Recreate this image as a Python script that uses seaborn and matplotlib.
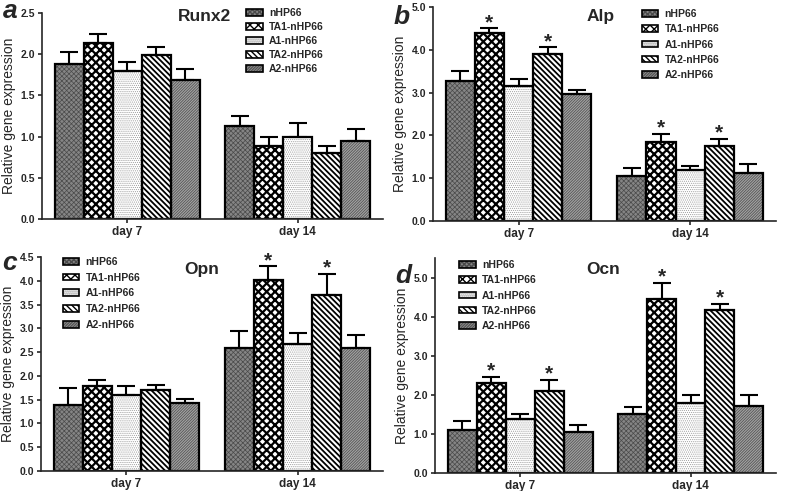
import matplotlib
matplotlib.use("Agg")
import matplotlib.pyplot as plt
from matplotlib.patches import Patch, Rectangle
from matplotlib.legend_handler import HandlerTuple
import seaborn as sns
import pandas as pd

days = ["day 7", "day 14"]
groups = ["nHP66", "TA1-nHP66", "A1-nHP66", "TA2-nHP66", "A2-nHP66"]

# values per group in the order of `groups`
runx2_day7 = [1.88, 2.13, 1.80, 1.99, 1.69]
runx2_day14 = [1.13, 0.88, 0.99, 0.80, 0.95]
runx2_err7 = [0.15, 0.12, 0.11, 0.10, 0.13]
runx2_err14 = [0.12, 0.11, 0.17, 0.09, 0.14]

alp_day7 = [3.28, 4.39, 3.16, 3.90, 2.96]
alp_day14 = [1.05, 1.84, 1.19, 1.74, 1.11]
alp_err7 = [0.22, 0.11, 0.16, 0.16, 0.11]
alp_err14 = [0.18, 0.20, 0.10, 0.18, 0.21]

opn_day7 = [1.39, 1.78, 1.60, 1.70, 1.44]
opn_day14 = [2.59, 4.01, 2.67, 3.71, 2.58]
opn_err7 = [0.35, 0.13, 0.18, 0.10, 0.08]
opn_err14 = [0.36, 0.30, 0.24, 0.44, 0.27]

ocn_day7 = [1.11, 2.31, 1.39, 2.09, 1.04]
ocn_day14 = [1.50, 4.45, 1.79, 4.18, 1.72]
ocn_err7 = [0.21, 0.15, 0.12, 0.30, 0.18]
ocn_err14 = [0.18, 0.42, 0.20, 0.15, 0.27]

runx2_stars = []
alp_stars = [("day 7", "TA1-nHP66"), ("day 7", "TA2-nHP66"),
             ("day 14", "TA1-nHP66"), ("day 14", "TA2-nHP66")]
opn_stars = [("day 14", "TA1-nHP66"), ("day 14", "TA2-nHP66")]
ocn_stars = [("day 7", "TA1-nHP66"), ("day 7", "TA2-nHP66"),
             ("day 14", "TA1-nHP66"), ("day 14", "TA2-nHP66")]

# face colour, hatch, hatch colour, hatch linewidth
styles = {
    "nHP66": ("#858585", "xxxxxxx", "#4a4a4a", 0.5),
    "TA1-nHP66": ("white", "xxxx", "black", 1.6),
    "A1-nHP66": ("white", "........", "#9a9a9a", 0.5),
    "TA2-nHP66": ("white", "\\\\\\\\\\\\", "black", 1.3),
    "A2-nHP66": ("#a4a4a4", "////////////", "#555555", 0.6),
}

sns.set_style("ticks")
plt.rcParams["font.family"] = ["Liberation Sans", "DejaVu Sans"]
plt.rcParams["axes.linewidth"] = 1.2


def make_frame(d7, d14, e7, e14):
    rows = []
    for i, g in enumerate(groups):
        rows.append({"day": "day 7", "group": g, "value": d7[i], "err": e7[i]})
        rows.append({"day": "day 14", "group": g, "value": d14[i], "err": e14[i]})
    return pd.DataFrame(rows)


def set_hlw(p, lw):
    if hasattr(p, "set_hatch_linewidth"):
        p.set_hatch_linewidth(lw)


def draw_panel(ax, df, title, title_xy, ylim, yticks, stars, leg_xy, leg_space):
    sns.barplot(data=df, x="day", y="value", hue="group", order=days,
                hue_order=groups, width=0.85, errorbar=None, legend=False,
                saturation=1, ax=ax)
    tops = {}
    for cont, g in zip(ax.containers, groups):
        face, hatch, hcol, hlw = styles[g]
        for bar, d in zip(cont, days):
            bar.set_facecolor(face)
            bar.set_edgecolor(hcol)
            bar.set_hatch(hatch)
            bar.set_linewidth(0)
            set_hlw(bar, hlw)
            ax.add_patch(Rectangle(bar.get_xy(), bar.get_width(), bar.get_height(),
                                   fill=False, edgecolor="black", lw=1.6,
                                   zorder=bar.get_zorder() + 0.1))
            err = df[(df.day == d) & (df.group == g)].err.iloc[0]
            x = bar.get_x() + bar.get_width() / 2
            y = bar.get_height()
            ax.errorbar([x], [y], yerr=[[0], [err]], fmt="none", ecolor="black",
                        elinewidth=1.5, capsize=6.5, capthick=1.5, zorder=1)
            tops[(d, g)] = (x, y + err)
    for key in stars:
        x, y = tops[key]
        ax.annotate("*", (x, y), xytext=(0, 0), textcoords="offset points",
                    ha="center", va="baseline", fontsize=15, fontweight="bold")

    ax.set_xlim(-0.5, 1.5)
    ax.set_ylim(*ylim)
    ax.set_yticks(yticks)
    ax.set_yticklabels([f"{t:.1f}" for t in yticks], fontsize=7.5, fontweight="bold")
    ax.set_xticks([0, 1])
    ax.set_xticklabels(days, fontsize=8.5, fontweight="bold")
    ax.tick_params(width=1.2, length=3, pad=2)
    ax.set_xlabel("")
    ax.set_ylabel("Relative gene expression", fontsize=10, labelpad=3)
    sns.despine(ax=ax)
    ax.text(title_xy[0], title_xy[1], title, transform=ax.transAxes,
            ha="center", va="center", fontsize=12.5, fontweight="bold")

    handles = []
    for g in groups:
        face, hatch, hcol, hlw = styles[g]
        p = Patch(facecolor=face, hatch=hatch, edgecolor=hcol, lw=0)
        set_hlw(p, hlw)
        handles.append((p, Patch(fill=False, edgecolor="black", lw=1.2)))
    ax.legend(handles, groups, handler_map={tuple: HandlerTuple(ndivide=1, pad=0)},
              loc="upper left", bbox_to_anchor=leg_xy, frameon=False,
              prop={"weight": "bold", "size": 7.5}, handlelength=1.6,
              handleheight=0.6, labelspacing=leg_space, handletextpad=0.6,
              borderpad=0, borderaxespad=0)


fig = plt.figure(figsize=(7.87, 4.91), dpi=100)
ax_a = fig.add_axes([0.0534, 0.554, 0.4333, 0.4195])
ax_b = fig.add_axes([0.550, 0.550, 0.4358, 0.4358])
ax_c = fig.add_axes([0.052, 0.0407, 0.4347, 0.4359])
ax_d = fig.add_axes([0.5527, 0.0367, 0.4333, 0.4378])

draw_panel(ax_a, make_frame(runx2_day7, runx2_day14, runx2_err7, runx2_err14),
           "Runx2", (0.475, 0.985), (0, 2.5), [0, 0.5, 1.0, 1.5, 2.0, 2.5],
           runx2_stars, (0.598, 1.024), 0.38)
draw_panel(ax_b, make_frame(alp_day7, alp_day14, alp_err7, alp_err14),
           "Alp", (0.49, 0.955), (0, 5.0), [0, 1, 2, 3, 4, 5],
           alp_stars, (0.609, 0.99), 0.5)
draw_panel(ax_c, make_frame(opn_day7, opn_day14, opn_err7, opn_err14),
           "Opn", (0.47, 0.94), (0, 4.5), [0, 0.5, 1.0, 1.5, 2.0, 2.5, 3.0, 3.5, 4.0, 4.5],
           opn_stars, (0.064, 1.0), 0.55)
draw_panel(ax_d, make_frame(ocn_day7, ocn_day14, ocn_err7, ocn_err14),
           "Ocn", (0.493, 0.945), (0, 5.5), [0, 1, 2, 3, 4, 5],
           ocn_stars, (0.070, 0.99), 0.5)

W, H = 787, 491
for letter, (px, py) in zip("abcd", [(3, 18), (394, 24), (2, 270), (395, 283)]):
    fig.text(px / W, 1 - py / H, letter, ha="left", va="baseline",
             fontsize=19, fontweight="heavy", style="italic")

fig.savefig("out.png", dpi=100)
